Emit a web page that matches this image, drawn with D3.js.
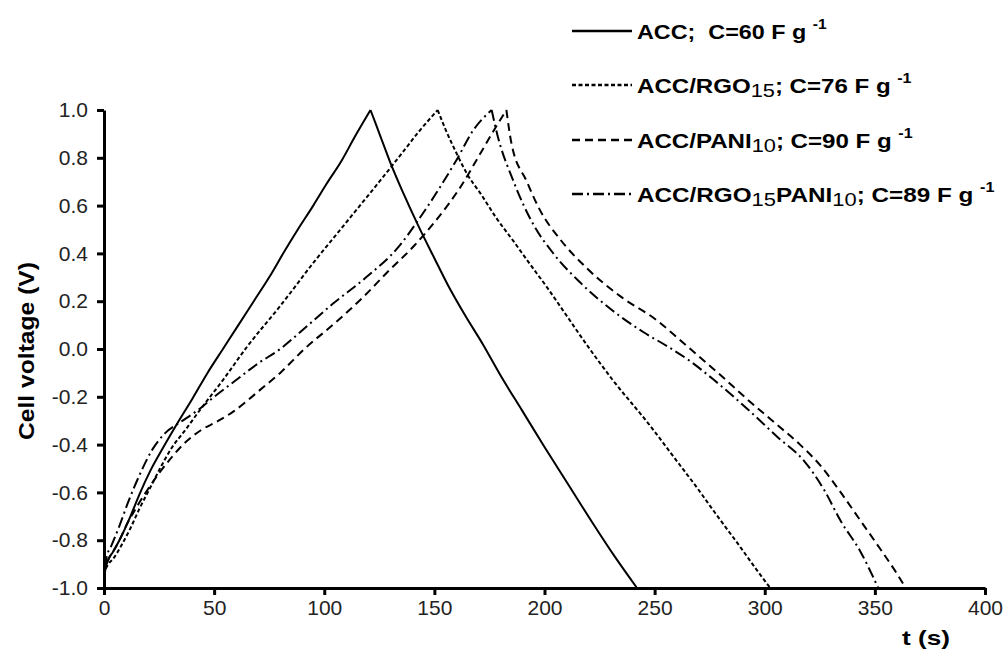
<!DOCTYPE html>
<html lang="en">
<head>
<meta charset="utf-8">
<title>Cell voltage vs time</title>
<script src="https://d3js.org/d3.v7.min.js"></script>
<style>
  body { margin: 0; background: #fff; }
  svg { background: #fff; display: block; }
  .tick text { font-family: "Liberation Sans Narrow", "Arial Narrow", "Liberation Sans", Arial, sans-serif; font-size: 21px; fill: #222; }
  .axis path, .axis line { stroke: #000; stroke-width: 3; }
  .lbl { font-family: "Liberation Sans", Arial, sans-serif; font-weight: bold; fill: #000; }
  .leg { font-family: "Liberation Sans", Arial, sans-serif; font-weight: bold; font-size: 21px; fill: #000; white-space: pre; }
</style>
</head>
<body>
<script>
// ---- data ----
var xTicks = [0, 50, 100, 150, 200, 250, 300, 350, 400];
var yTicks = [-1.0, -0.8, -0.6, -0.4, -0.2, 0.0, 0.2, 0.4, 0.6, 0.8, 1.0];

var seriesNames = ["ACC", "ACC/RGO15", "ACC/PANI10", "ACC/RGO15PANI10"];
var capacitance = [60, 76, 90, 89];

var accT = [0,0.5,2,4,7,12,16,21,27,34,40,47,54,61,68,75,82,88,95,101,108,114,121,
            125.5,130,136,143,150,156,164,172,180,190,200,211,222,232,242];
var accV = [-1,-0.93,-0.88,-0.85,-0.8,-0.7,-0.61,-0.51,-0.41,-0.3,-0.21,-0.1,0,0.1,0.2,0.3,0.41,0.5,0.6,0.69,0.79,0.89,1.0,
            0.89,0.78,0.65,0.51,0.38,0.27,0.14,0.02,-0.11,-0.26,-0.41,-0.57,-0.73,-0.87,-1.0];

var rgoT = [0,0.5,2,4,8,12,16,21,26,31,36,44,54,65,80,95,110,125,134.5,143,151.5,
            155,160,165,171,178,186,193,201,210,219,231,247,261,270,277,289,296,302.5];
var rgoV = [-1,-0.93,-0.9,-0.88,-0.82,-0.75,-0.67,-0.58,-0.49,-0.41,-0.35,-0.25,-0.13,0.01,0.18,0.36,0.53,0.7,0.81,0.91,1.0,
            0.92,0.82,0.73,0.65,0.55,0.45,0.36,0.26,0.14,0.02,-0.13,-0.31,-0.48,-0.59,-0.68,-0.83,-0.92,-1.0];

var paniT = [0,0.5,2,4,7,10,13,19,25,31,37,44,52,59,71,80,91,105,118,128.5,140.6,150,162,171,178,182.7,
             185,192,198,207,219,234.5,251,260,270,280,292,306,316,325.5,334.5,343.6,352.7,360,364];
var paniV = [-1,-0.92,-0.88,-0.85,-0.8,-0.74,-0.69,-0.6,-0.52,-0.45,-0.39,-0.34,-0.3,-0.26,-0.17,-0.1,0.0,0.11,0.22,0.32,0.43,0.53,0.68,0.82,0.93,1.0,
             0.86,0.7,0.58,0.46,0.34,0.22,0.12,0.05,-0.03,-0.11,-0.21,-0.32,-0.4,-0.49,-0.6,-0.72,-0.84,-0.94,-1.0];

var bothT = [0,0.5,1.5,3,7,11,16,22,28,34,42,50,60,70,80,89,104,119,134,142,150,160,168,176,
             178.5,186,195,204,216,231,245,256,266,277,292,306,318,327,334.5,343.6,349.5,351.5];
var bothV = [-1,-0.91,-0.86,-0.83,-0.74,-0.64,-0.53,-0.42,-0.35,-0.31,-0.26,-0.2,-0.13,-0.06,0.0,0.07,0.19,0.3,0.43,0.53,0.64,0.79,0.92,1.0,
             0.9,0.7,0.52,0.4,0.28,0.16,0.07,0.01,-0.05,-0.13,-0.25,-0.37,-0.47,-0.59,-0.72,-0.85,-0.96,-1.0];

// ---- layout ----
var width = 1004, height = 665;
var svg = d3.select("body").append("svg")
    .attr("width", width)
    .attr("height", height);

var x = d3.scaleLinear().domain([0, 400]).range([104, 985]);
var y = d3.scaleLinear().domain([-1, 1]).range([588, 110]);

var series = [
  { t: accT,  v: accV,  dash: null },
  { t: rgoT,  v: rgoV,  dash: "4,2.5" },
  { t: paniT, v: paniV, dash: "8,5" },
  { t: bothT, v: bothV, dash: "11,4,2,4" }
];

var line = d3.line()
    .x(function(d) { return x(d[0]); })
    .y(function(d) { return y(d[1]); })
    .curve(d3.curveMonotoneX);

// charge and discharge branches are smoothed separately so the peak stays sharp
function branchPath(s) {
  var pts = d3.zip(s.t, s.v);
  var k = d3.maxIndex(s.v);
  return line(pts.slice(0, k + 1)) + line(pts.slice(k));
}

svg.selectAll("path.curve")
    .data(series)
    .enter()
    .append("path")
    .attr("class", "curve")
    .attr("fill", "none")
    .attr("stroke", "#000")
    .attr("stroke-width", 2)
    .attr("stroke-dasharray", function(d) { return d.dash; })
    .attr("d", branchPath);

// axes
svg.append("g")
    .attr("class", "axis")
    .attr("transform", "translate(104,0)")
    .call(d3.axisLeft(y).tickValues(yTicks).tickSizeInner(7).tickSizeOuter(0).tickPadding(9)
        .tickFormat(function(d) { return d.toFixed(1); }));

svg.append("g")
    .attr("class", "axis")
    .attr("transform", "translate(0,588)")
    .call(d3.axisBottom(x).tickValues(xTicks).tickSizeInner(7).tickSizeOuter(0).tickPadding(5)
        .tickFormat(function(d) { return d; }));

// axis titles
svg.append("text")
    .attr("class", "lbl")
    .attr("transform", "translate(34,351) rotate(-90)")
    .attr("text-anchor", "middle")
    .attr("font-size", 22)
    .attr("textLength", 178)
    .attr("lengthAdjust", "spacingAndGlyphs")
    .text("Cell voltage (V)");

svg.append("text")
    .attr("class", "lbl")
    .attr("x", 902)
    .attr("y", 645)
    .attr("font-size", 21)
    .attr("textLength", 48)
    .attr("lengthAdjust", "spacingAndGlyphs")
    .text("t (s)");

// legend
var legBase = [39, 93, 148, 202];
var legWidth = [190, 275, 276, 358];

function labelParts(name) {
  // split "RGO15" / "PANI10" into text + subscript
  var parts = [];
  var re = /(\d+)/g, last = 0, m;
  while ((m = re.exec(name)) !== null) {
    parts.push({ s: name.slice(last, m.index), sub: false });
    parts.push({ s: m[1], sub: true });
    last = m.index + m[1].length;
  }
  parts.push({ s: name.slice(last), sub: false });
  return parts.filter(function(p) { return p.s.length; });
}

series.forEach(function(s, i) {
  var yb = legBase[i];
  svg.append("line")
      .attr("x1", 572).attr("x2", 632)
      .attr("y1", yb - 8).attr("y2", yb - 8)
      .attr("stroke", "#000")
      .attr("stroke-width", 2.5)
      .attr("stroke-dasharray", s.dash);

  var t = svg.append("text").attr("class", "leg");
  var parts = labelParts(seriesNames[i]);
  var shifted = 0;
  parts.forEach(function(p) {
    if (p.sub) {
      t.append("tspan").attr("dy", 4 - shifted).attr("font-weight", "normal").attr("font-size", 19).text(p.s);
      shifted = 4;
    } else {
      t.append("tspan").attr("dy", -shifted).text(p.s);
      shifted = 0;
    }
  });
  var sep = (i === 0) ? ";  C=" : "; C=";
  t.append("tspan").attr("dy", -shifted).text(sep + capacitance[i] + " F g ");
  t.append("tspan").attr("dy", -10).attr("font-size", 14).text("-1");

  var w = t.node().getBBox().width;
  t.attr("transform", "translate(637," + yb + ") scale(" + (legWidth[i] / w) + ",1)");
});
</script>
</body>
</html>
